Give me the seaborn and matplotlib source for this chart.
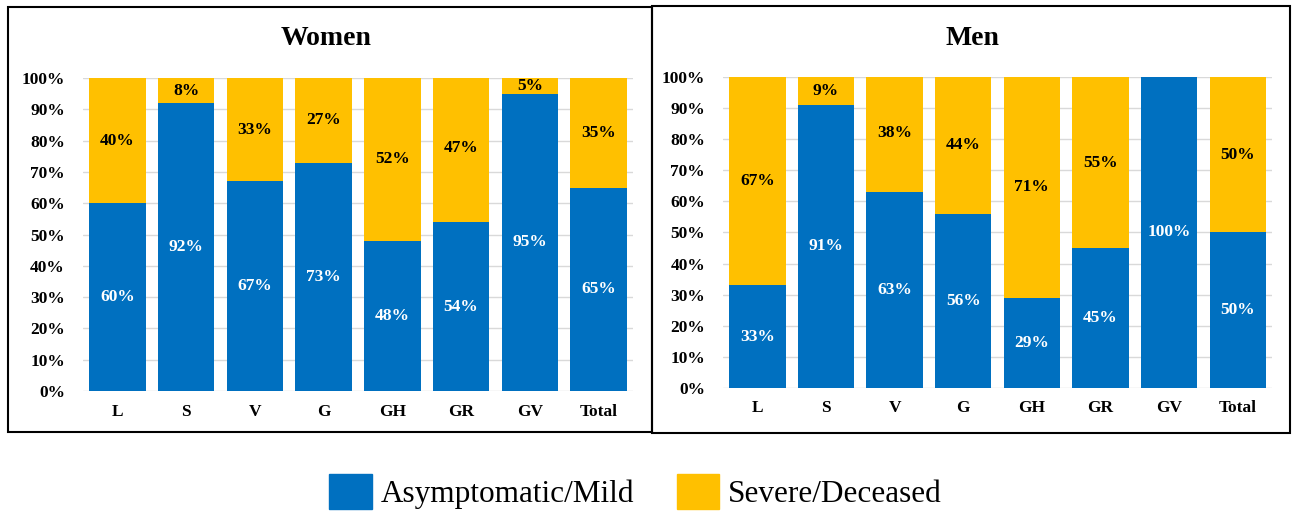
import pandas as pd
import matplotlib
matplotlib.use("Agg")
import matplotlib.pyplot as plt
from matplotlib.patches import Patch, Rectangle
import seaborn as sns

# =====================================================================
# DATA (percent of patients per group)
# =====================================================================
CATEGORIES = ['L', 'S', 'V', 'G', 'GH', 'GR', 'GV', 'Total']

WOMEN_MILD = [60, 92, 67, 73, 48, 54, 95, 65]
WOMEN_SEVERE = [40, 8, 33, 27, 52, 47, 5, 35]

MEN_MILD = [33, 91, 63, 56, 29, 45, 100, 50]
MEN_SEVERE = [67, 9, 38, 44, 71, 55, 0, 50]

Y_TICKS = [0, 10, 20, 30, 40, 50, 60, 70, 80, 90, 100]

BLUE = '#0070C0'
YELLOW = '#FFC000'
GRID = '#D9D9D9'

# =====================================================================
# STYLE
# =====================================================================
sns.set_theme(style="white")
plt.rcParams['font.family'] = ['Liberation Serif', 'DejaVu Serif']
plt.rcParams['text.color'] = 'black'
plt.rcParams['xtick.color'] = 'black'
plt.rcParams['ytick.color'] = 'black'


def draw_panel(ax, mild, severe):
    """Stacked 100% bar chart: mild at the bottom, severe on top."""
    df = pd.DataFrame({'cat': CATEGORIES, 'mild': mild, 'severe': severe})
    df['top'] = df['mild'] + df['severe']

    # draw full stack in yellow first, then the blue part over it
    sns.barplot(data=df, x='cat', y='top', color=YELLOW, width=0.82,
                saturation=1, linewidth=0, ax=ax, zorder=2)
    sns.barplot(data=df, x='cat', y='mild', color=BLUE, width=0.82,
                saturation=1, linewidth=0, ax=ax, zorder=3)

    for i, row in df.iterrows():
        if row['mild'] > 0:
            ax.text(i, row['mild'] / 2, f"{row['mild']}%", ha='center', va='center',
                    color='white', fontsize=12.5, fontweight='bold', zorder=4)
        if row['severe'] > 0:
            ax.text(i, row['mild'] + row['severe'] / 2, f"{row['severe']}%",
                    ha='center', va='center', color='black', fontsize=12.5,
                    fontweight='bold', zorder=4)

    ax.set_ylim(0, 100)
    ax.set_xlim(-0.5, len(CATEGORIES) - 0.5)
    ax.set_yticks(Y_TICKS)
    ax.set_yticklabels([f"{v}%" for v in Y_TICKS])
    ax.yaxis.grid(True, color=GRID, linewidth=1)
    ax.set_axisbelow(True)
    for s in ax.spines.values():
        s.set_visible(False)
    ax.set_xlabel('')
    ax.set_ylabel('')
    ax.tick_params(axis='y', length=0, pad=13, labelsize=12.5)
    ax.tick_params(axis='x', length=0, pad=9, labelsize=12.5)
    for lbl in ax.get_xticklabels() + ax.get_yticklabels():
        lbl.set_fontweight('bold')


fig = plt.figure(figsize=(13, 5.16), dpi=100)

ax_w = fig.add_axes([0.0638, 0.2422, 0.4231, 0.6066])
ax_m = fig.add_axes([0.5562, 0.2481, 0.4223, 0.6027])
draw_panel(ax_w, WOMEN_MILD, WOMEN_SEVERE)
draw_panel(ax_m, MEN_MILD, MEN_SEVERE)

fig.text(0.251, 0.926, 'Women', ha='center', va='center', fontsize=20, fontweight='bold')
fig.text(0.748, 0.926, 'Men', ha='center', va='center', fontsize=20, fontweight='bold')

# panel frames
fig.patches.append(Rectangle((8 / 1300, 1 - 432 / 516), 644 / 1300, 425 / 516,
                             transform=fig.transFigure, fill=False, ec='black', lw=1.5))
fig.patches.append(Rectangle((652 / 1300, 1 - 433 / 516), 638 / 1300, 427 / 516,
                             transform=fig.transFigure, fill=False, ec='black', lw=1.5))

handles = [Patch(color=BLUE, label='Asymptomatic/Mild'),
           Patch(color=YELLOW, label='Severe/Deceased')]
fig.legend(handles=handles, loc='center', bbox_to_anchor=(0.489, 0.048), ncol=2,
           frameon=False, fontsize=22.5, handlelength=1.35, handleheight=1.35,
           handletextpad=0.3, columnspacing=1.35)

fig.savefig('out.png', dpi=100)
